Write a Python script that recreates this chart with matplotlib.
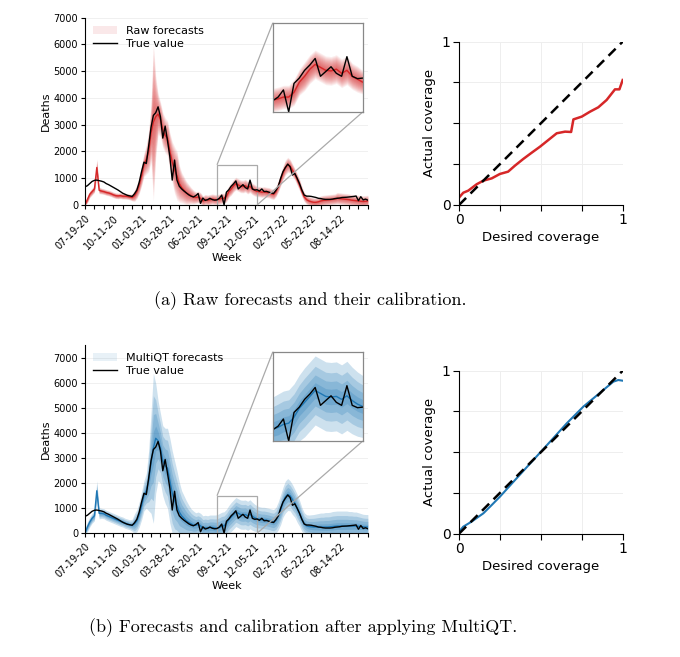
import numpy as np
import matplotlib
matplotlib.use("Agg")
import matplotlib.pyplot as plt
from matplotlib.patches import Patch
from matplotlib.lines import Line2D
from mpl_toolkits.axes_grid1.inset_locator import mark_inset

# --- dane: tygodnie 0..120 od 07-19-20 ---
weeks = np.arange(121)
tick_labels = ["07-19-20", "10-11-20", "01-03-21", "03-28-21", "06-20-21",
               "09-12-21", "12-05-21", "02-27-22", "05-22-22", "08-14-22"]

true_value = [
    680, 720, 800, 880, 920, 930, 910, 890, 860, 800,
    760, 710, 660, 610, 560, 500, 440, 400, 360, 340,
    320, 420, 560, 850, 1250, 1600, 1550, 2200, 2900, 3350,
    3450, 3670, 3300, 2500, 2950, 2400, 1800, 930, 1680, 930,
    700, 600, 520, 450, 380, 330, 300, 350, 430, 60,
    260, 170, 200, 250, 200, 180, 190, 250, 370, 0,
    480, 570, 700, 790, 900, 600, 680, 760, 650, 600,
    930, 600, 560, 570, 520, 600, 500, 510, 480, 450,
    430, 550, 700, 1000, 1250, 1400, 1530, 1430, 1120, 1180,
    1000, 800, 560, 370, 330, 330, 320, 300, 280, 250,
    240, 220, 210, 210, 210, 220, 240, 250, 260, 280,
    285, 290, 300, 310, 320, 335, 160, 310, 190, 220,
    180]

raw_median = [
    0, 200, 400, 500, 600, 1400, 550, 520, 500, 470,
    450, 420, 380, 350, 340, 350, 330, 330, 320, 300,
    280, 350, 500, 750, 1100, 1500, 1700, 2000, 2700, 3100,
    3300, 3400, 3200, 2800, 2600, 2500, 2000, 1600, 1300, 1100,
    800, 650, 550, 450, 400, 350, 300, 280, 300, 250,
    150, 200, 180, 200, 220, 200, 200, 220, 250, 250,
    330, 500, 600, 720, 800, 750, 700, 690, 720, 650,
    700, 600, 550, 500, 500, 480, 490, 470, 460, 420,
    400, 500, 700, 950, 1200, 1400, 1500, 1450, 1300, 1150,
    950, 750, 500, 300, 200, 150, 120, 100, 100, 120,
    150, 170, 180, 190, 200, 210, 220, 250, 240, 230,
    220, 210, 200, 180, 170, 160, 150, 140, 130, 140,
    150]

raw_spread = [
    60, 60, 60, 60, 60, 150, 60, 50, 50, 50,
    50, 50, 50, 50, 50, 50, 50, 50, 50, 50,
    60, 100, 120, 150, 180, 200, 250, 350, 500, 1350,
    700, 350, 300, 300, 300, 300, 320, 350, 400, 420,
    320, 260, 230, 200, 170, 140, 120, 100, 100, 100,
    90, 90, 90, 90, 90, 90, 90, 90, 90, 90,
    100, 100, 110, 110, 110, 110, 110, 110, 110, 110,
    110, 100, 100, 90, 90, 90, 90, 90, 90, 90,
    90, 90, 100, 110, 120, 130, 130, 120, 110, 100,
    100, 100, 90, 80, 80, 80, 80, 80, 80, 80,
    90, 90, 90, 90, 90, 90, 90, 100, 100, 100,
    100, 100, 100, 100, 100, 100, 100, 100, 100, 100,
    100]

mqt_median = [
    0, 250, 450, 600, 700, 1700, 800, 800, 780, 720,
    680, 640, 600, 560, 520, 480, 450, 400, 370, 340,
    320, 380, 500, 750, 1100, 1500, 1700, 2100, 2800, 3400,
    3800, 3700, 3400, 2900, 2700, 2600, 2100, 1600, 1300, 1100,
    850, 700, 600, 500, 430, 380, 330, 320, 350, 300,
    200, 220, 200, 230, 230, 210, 200, 230, 280, 300,
    400, 550, 650, 750, 850, 800, 750, 740, 750, 700,
    760, 680, 620, 580, 560, 540, 540, 520, 500, 470,
    450, 520, 700, 950, 1250, 1450, 1550, 1500, 1350, 1200,
    1000, 800, 550, 380, 300, 270, 260, 250, 250, 250,
    250, 250, 250, 250, 260, 270, 280, 290, 290, 290,
    290, 290, 290, 290, 290, 290, 280, 270, 260, 250,
    250]

mqt_spread = [
    100, 100, 100, 100, 100, 200, 110, 100, 100, 100,
    100, 100, 100, 100, 100, 100, 100, 100, 100, 100,
    120, 200, 220, 250, 280, 300, 350, 600, 1000, 1500,
    1100, 800, 700, 700, 750, 800, 850, 850, 800, 700,
    600, 500, 450, 400, 350, 300, 280, 250, 250, 250,
    250, 250, 250, 250, 250, 260, 270, 280, 280, 280,
    280, 280, 290, 290, 290, 290, 290, 290, 290, 290,
    290, 280, 270, 260, 250, 250, 250, 250, 250, 250,
    250, 260, 280, 300, 300, 320, 320, 300, 300, 280,
    280, 260, 240, 220, 220, 230, 240, 250, 260, 270,
    280, 280, 290, 290, 290, 300, 300, 300, 300, 300,
    300, 300, 290, 290, 280, 280, 270, 260, 250, 250,
    250]

# pokrycie (kalibracja)
raw_cov_x = [0, 0.026, 0.057, 0.108, 0.149, 0.2, 0.25, 0.3, 0.342, 0.393, 0.444,
             0.495, 0.546, 0.597, 0.648, 0.685, 0.699, 0.75, 0.8, 0.851, 0.902,
             0.953, 0.98, 1.0]
raw_cov_y = [0.045, 0.075, 0.088, 0.127, 0.149, 0.163, 0.19, 0.204, 0.241, 0.282, 0.32,
             0.357, 0.398, 0.439, 0.449, 0.447, 0.524, 0.541, 0.571, 0.598, 0.643,
             0.708, 0.708, 0.765]
mqt_cov_x = [0, 0.026, 0.077, 0.149, 0.2, 0.25, 0.352, 0.454, 0.556, 0.658, 0.76,
             0.862, 0.943, 0.973, 1.0]
mqt_cov_y = [0.012, 0.043, 0.074, 0.125, 0.176, 0.227, 0.34, 0.452, 0.564, 0.677, 0.78,
             0.865, 0.933, 0.943, 0.939]

RED = "#d62728"
BLUE = "#1f77b4"

fig = plt.figure(figsize=(6.8, 6.57), dpi=100)


def rysuj_prognozy(ax, median, spread, color, zs, alpha):
    med = np.array(median, dtype=float)
    sd = np.array(spread, dtype=float)
    for z in zs:
        ax.fill_between(weeks, np.clip(med - z * sd, 0, None), med + z * sd,
                        color=color, alpha=alpha, lw=0)
    ax.plot(weeks, med, color=color, lw=1)
    ax.plot(weeks, true_value, color="black", lw=1)


def szereg(pos, median, spread, color, zs, alpha, label, ymax, inset_pos):
    ax = fig.add_axes(pos)
    rysuj_prognozy(ax, median, spread, color, zs, alpha)
    ax.set_xlim(0, 120)
    ax.set_ylim(0, ymax)
    ax.set_yticks(range(0, 7001, 1000))
    ax.set_xticks(range(0, 121, 4))
    ax.set_xticklabels([tick_labels[i // 12] if i % 12 == 0 and i // 12 < len(tick_labels) else ""
                        for i in range(0, 121, 4)], rotation=45, ha="right",
                       rotation_mode="anchor")
    ax.tick_params(labelsize=7, length=3, width=0.8, pad=2)
    ax.tick_params(axis="x", pad=3)
    ax.grid(axis="y", color="#eeeeee", lw=0.6)
    ax.set_axisbelow(True)
    for s in ["top", "right"]:
        ax.spines[s].set_visible(False)
    ax.set_ylabel("Deaths", fontsize=8, labelpad=2)
    ax.set_xlabel("Week", fontsize=8, labelpad=1)
    handles = [Patch(facecolor=color, alpha=0.1, edgecolor="none"),
               Line2D([], [], color="black", lw=1)]
    ax.legend(handles, [label, "True value"], loc="upper left", frameon=False,
              fontsize=8, handlelength=2.2, borderaxespad=0.3, labelspacing=0.3)

    axins = ax.inset_axes(inset_pos)
    rysuj_prognozy(axins, median, spread, color, zs, alpha)
    axins.set_xlim(56, 73)
    axins.set_ylim(0, 1500)
    axins.set_xticks([])
    axins.set_yticks([])
    for s in axins.spines.values():
        s.set_color("#888888")
        s.set_linewidth(0.9)
    mark_inset(ax, axins, loc1=2, loc2=4, fc="none", ec="#aaaaaa", lw=0.9)
    return ax


def kalibracja(pos, xs, ys, color, lw):
    ax = fig.add_axes(pos)
    ax.plot([0, 1], [0, 1], color="black", ls="--", lw=1.8, dashes=(4, 2.5), zorder=3)
    ax.plot(xs, ys, color=color, lw=lw, zorder=2)
    ax.set_xlim(0, 1)
    ax.set_ylim(0, 1)
    ticks = [0, 0.25, 0.5, 0.75, 1]
    ax.set_xticks(ticks)
    ax.set_yticks(ticks)
    ax.set_xticklabels(["0", "", "", "", "1"])
    ax.set_yticklabels(["0", "", "", "", "1"])
    ax.tick_params(labelsize=10, length=4, width=0.8, pad=2)
    ax.grid(color="#eeeeee", lw=0.7)
    ax.set_axisbelow(True)
    for s in ["top", "right"]:
        ax.spines[s].set_visible(False)
    ax.set_xlabel("Desired coverage", fontsize=9.5, labelpad=3)
    ax.set_ylabel("Actual coverage", fontsize=9.5, labelpad=4)
    return ax


red_zs = np.linspace(0.15, 2.2, 14)
blue_zs = [0.45, 0.9, 1.4, 2.0]

szereg([0.125, 0.688, 0.416, 0.285], raw_median, raw_spread, RED, red_zs, 0.075,
       "Raw forecasts", 7000, [0.664, 0.497, 0.318, 0.476])
kalibracja([0.675, 0.688, 0.2407, 0.2486], raw_cov_x, raw_cov_y, RED, 1.8)

szereg([0.125, 0.1883, 0.416, 0.2866], mqt_median, mqt_spread, BLUE, blue_zs, 0.22,
       "MultiQT forecasts", 7530, [0.664, 0.49, 0.318, 0.474])
kalibracja([0.675, 0.1877, 0.2407, 0.248], mqt_cov_x, mqt_cov_y, BLUE, 1.5)

fig.text(0.456, 0.543, "(a) Raw forecasts and their calibration.",
         family="cmr10", fontsize=13, ha="center", va="center")
fig.text(0.446, 0.044, "(b) Forecasts and calibration after applying MultiQT.",
         family="cmr10", fontsize=13, ha="center", va="center")

fig.savefig("out.png", dpi=100)
